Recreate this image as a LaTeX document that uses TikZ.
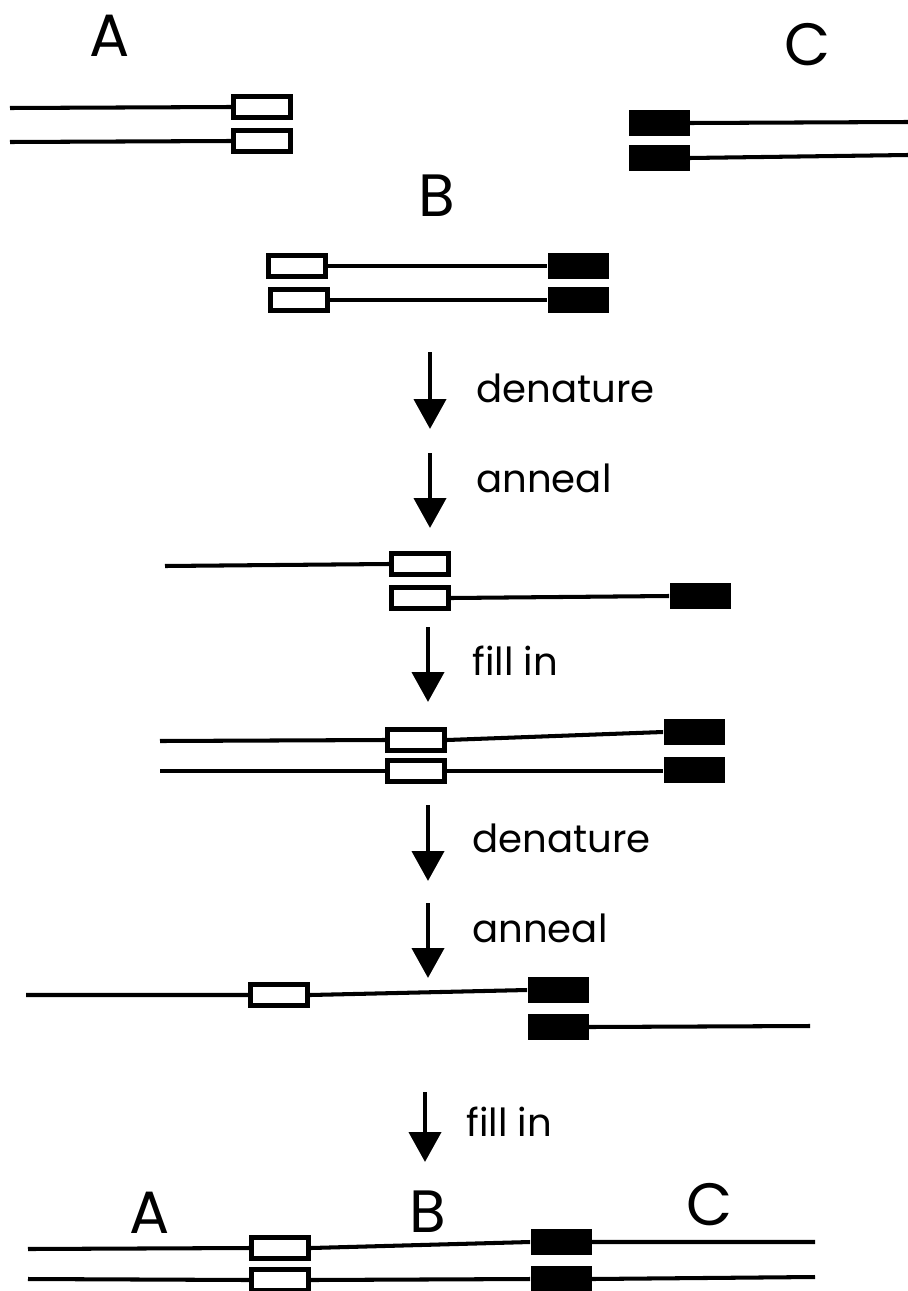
\documentclass[tikz,border=0pt]{standalone}
\usepackage{fontspec}
\setmainfont{Poppins}
\usetikzlibrary{arrows.meta}
\def\openw{1.14cm}
\def\openh{0.41cm}
\def\fillw{1.22cm}
\def\fillh{0.52cm}
\tikzset{
	strand/.style={line width=2.3pt},%
	openbox/.style={draw,line width=3pt,fill=white,minimum width=\openw,minimum height=\openh,inner sep=0pt},%
	filledbox/.style={fill=black,minimum width=\fillw,minimum height=\fillh,inner sep=0pt},%
	steparrow/.style={line width=2.8pt,-{Triangle[length=17pt,width=18pt]}},%
	steptext/.style={anchor=west,inner sep=0pt,font=\fontsize{22}{26}\selectfont},%
	segment/.style={inner sep=0pt,font=\fontsize{34}{40}\selectfont},%
}

\begin{document}
\begin{tikzpicture}[x=0.02cm,y=-0.02cm]
		\useasboundingbox (0,0) rectangle (908,1291);
		% Starting fragments {{{
		\node[segment] (labA) at (110,36) {A};
		\node[openbox] (a1) at (262,107) {};
		\node[openbox] (a2) at (262,141) {};
		\coordinate (a1end) at (10,108);
		\coordinate (a2end) at (10,142);
		\draw[strand] (a1end) -- (a1.west) (a2end) -- (a2.west);
		\node[segment] (labC) at (808,45) {C};
		\node[filledbox] (c1) at (659,123) {};
		\node[filledbox] (c2) at (659,158) {};
		\coordinate (c1end) at (908,122);
		\coordinate (c2end) at (908,155);
		\draw[strand] (c1.east) -- (c1end) (c2.east) -- (c2end);
		\node[segment] (labB) at (437,196) {B};
		\node[openbox] (b1) at (297,266) {};
		\node[openbox] (b2) at (299,300) {};
		\node[filledbox] (bf1) at (578,266) {};
		\node[filledbox] (bf2) at (578,300) {};
		\draw[strand] (b1.east) -- (bf1.west) (b2.east) -- (bf2.west);
		% }}}
		% First round {{{
		\coordinate (s1top) at (430,352);
		\coordinate (s1tip) at (430,429);
		\draw[steparrow] (s1top) -- (s1tip);
		\node[steptext] (s1text) at (476,388) {denature};
		\coordinate (s2top) at (430,453);
		\coordinate (s2tip) at (430,528);
		\draw[steparrow] (s2top) -- (s2tip);
		\node[steptext] (s2text) at (476,478) {anneal};
		\coordinate (r1end) at (165,566);
		\node[openbox] (r1) at (420,564) {};
		\node[openbox] (r2) at (420,598) {};
		\node[filledbox] (rf2) at (700,596) {};
		\draw[strand] (r1end) -- (r1.west) (r2.east) -- (rf2.west);
		\coordinate (s3top) at (428,627);
		\coordinate (s3tip) at (428,702);
		\draw[steparrow] (s3top) -- (s3tip);
		\node[steptext] (s3text) at (472,661) {fill in};
		\coordinate (p1end) at (160,741);
		\coordinate (p2end) at (160,771);
		\node[openbox] (p1) at (416,740) {};
		\node[openbox] (p2) at (416,771) {};
		\node[filledbox] (pf1) at (694,732) {};
		\node[filledbox] (pf2) at (694,770) {};
		\draw[strand] (p1end) -- (p1.west) (p1.east) -- (pf1.west);
		\draw[strand] (p2end) -- (p2.west) (p2.east) -- (p2.east -| pf2.west);
		% }}}
		% Second round {{{
		\coordinate (s4top) at (428,805);
		\coordinate (s4tip) at (428,881);
		\draw[steparrow] (s4top) -- (s4tip);
		\node[steptext] (s4text) at (472,838) {denature};
		\coordinate (s5top) at (428,903);
		\coordinate (s5tip) at (428,978);
		\draw[steparrow] (s5top) -- (s5tip);
		\node[steptext] (s5text) at (472,928) {anneal};
		\coordinate (q1end) at (26,995);
		\node[openbox] (q1) at (279,995) {};
		\node[filledbox] (qf1) at (558,990) {};
		\node[filledbox] (qf2) at (558,1027) {};
		\coordinate (q2end) at (810,1026);
		\draw[strand] (q1end) -- (q1.west) (q1.east) -- (qf1.west) (qf2.east) -- (q2end);
		\coordinate (s6top) at (425,1092);
		\coordinate (s6tip) at (425,1162);
		\draw[steparrow] (s6top) -- (s6tip);
		\node[steptext] (s6text) at (466,1122) {fill in};
		% }}}
		% Product {{{
		\node[segment] (finA) at (150,1213) {A};
		\node[segment] (finB) at (428,1212) {B};
		\node[segment] (finC) at (710,1205) {C};
		\coordinate (f1start) at (28,1249);
		\coordinate (f2start) at (28,1279);
		\node[openbox] (f1) at (280,1248) {};
		\node[openbox] (f2) at (280,1280) {};
		\node[filledbox] (ff1) at (561,1242) {};
		\node[filledbox] (ff2) at (561,1279) {};
		\coordinate (f1end) at (815,1242);
		\coordinate (f2end) at (815,1277);
		\draw[strand] (f1start) -- (f1.west) (f1.east) -- (ff1.west) (ff1.east) -- (f1end);
		\draw[strand] (f2start) -- (f2.west) (f2.east) -- (ff2.west) (ff2.east) -- (f2end);
		% }}}
	\end{tikzpicture}
\end{document}
